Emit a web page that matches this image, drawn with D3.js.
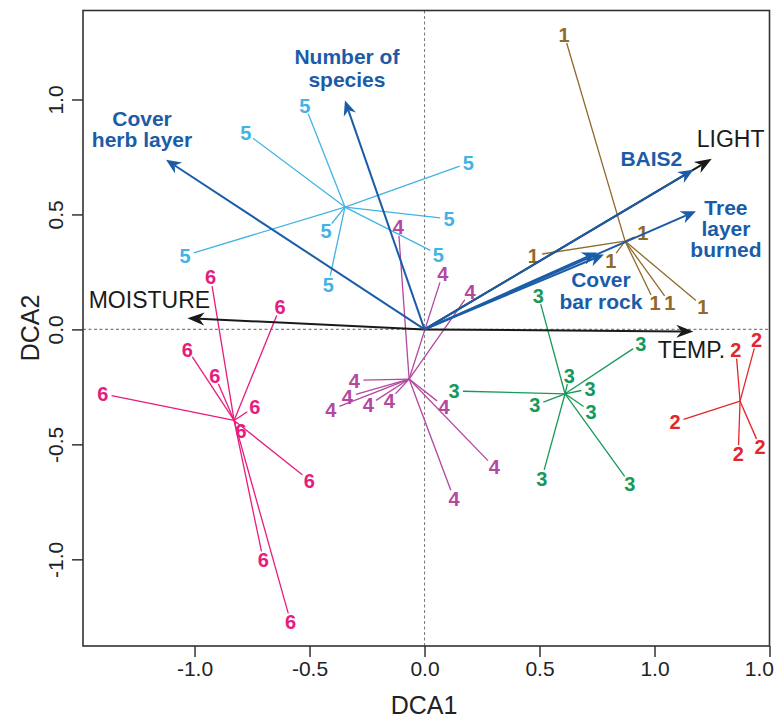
<!DOCTYPE html>
<html><head><meta charset="utf-8">
<script src="https://cdn.jsdelivr.net/npm/d3@7"></script>
<style>body{margin:0;background:#fff}svg{display:block}</style>
</head><body>
<script>
// ---------- data ----------
const xTicks = [-1.0, -0.5, 0.0, 0.5, 1.0, 1.5];
const xTickLabels = ["-1.0", "-0.5", "0.0", "0.5", "1.0", "1.0"];
const yTicks = [-1.0, -0.5, 0.0, 0.5, 1.0];
const yTickLabels = ["-1.0", "-0.5", "0.0", "0.5", "1.0"];
const xTitle = "DCA1";
const yTitle = "DCA2";

const groups = ["1", "2", "3", "4", "5", "6"];
const centroidX = [0.872, 1.372, 0.611, -0.067, -0.346, -0.828];
const centroidY = [0.384, -0.312, -0.280, -0.216, 0.532, -0.396];

const sites1 = [[0.607,1.283],[0.473,0.322],[0.949,0.419],[0.810,0.300],[1.002,0.114],[1.067,0.114],[1.210,0.100]];
const sites2 = [[1.354,-0.088],[1.444,-0.045],[1.089,-0.403],[1.364,-0.542],[1.459,-0.512]];
const sites3 = [[0.495,0.148],[0.128,-0.268],[0.940,-0.062],[0.630,-0.200],[0.720,-0.258],[0.480,-0.330],[0.724,-0.357],[0.510,-0.649],[0.893,-0.671]];
const sites4 = [[-0.114,0.445],[0.079,0.242],[0.198,0.162],[-0.305,-0.222],[-0.336,-0.294],[-0.407,-0.349],[-0.244,-0.330],[-0.153,-0.309],[0.085,-0.335],[0.303,-0.599],[0.128,-0.736]];
const sites5 = [[-0.520,0.974],[-0.777,0.855],[0.190,0.723],[0.107,0.481],[-0.428,0.430],[0.060,0.326],[-1.041,0.322],[-0.418,0.196]];
const sites6 = [[-0.930,0.227],[-0.628,0.097],[-1.031,-0.087],[-0.912,-0.200],[-1.399,-0.280],[-0.738,-0.337],[-0.798,-0.443],[-0.501,-0.657],[-0.701,-1.004],[-0.582,-1.273]];
const groupSites = [sites1, sites2, sites3, sites4, sites5, sites6];

const vectorNames = ["LIGHT", "MOISTURE", "TEMP.", "Number of species", "Cover herb layer", "BAIS2", "Tree layer burned", "Cover bar rock", ""];
const vectorX = [1.249, -1.031, 1.169, -0.346, -1.124, 1.169, 1.180, 0.780, 0.750];
const vectorY = [0.742, 0.049, -0.009, 0.996, 0.738, 0.694, 0.514, 0.326, 0.335];
const vectorKind = ["env", "env", "env", "species", "species", "species", "species", "species", "species"];

// ---------- styles / layout ----------
const W = 774, H = 719;
const groupColors = ["#8f6a2b", "#e3262b", "#17995a", "#b4479f", "#41b3e4", "#e61c7e"];
const kindColor = {species: "#1b5ca8", env: "#1a1a1a"};
// label lines and pixel offsets relative to arrow tip (text layout only)
const vecLabelLayout = [
  {lines: ["LIGHT"], dx: -15, dy: [-12], anchor: "start"},
  {lines: ["MOISTURE"], dx: -38, dy: [-10], anchor: "middle"},
  {lines: ["TEMP."], dx: -2, dy: [27], anchor: "middle"},
  {lines: ["Number of", "species"], dx: 2, dy: [-36, -13], anchor: "middle"},
  {lines: ["Cover", "herb layer"], dx: -24, dy: [-34, -13], anchor: "middle"},
  {lines: ["BAIS2"], dx: -42, dy: [-4], anchor: "middle"},
  {lines: ["Tree", "layer", "burned"], dx: 30, dy: [4, 25, 46], anchor: "middle"},
  {lines: ["Cover", "bar rock"], dx: -3, dy: [33, 55], anchor: "middle"},
  {lines: [], dx: 0, dy: [], anchor: "middle"}
];

const svg = d3.select("body").append("svg").attr("width", W).attr("height", H);
const x = d3.scaleLinear().domain([-1.485, 1.5]).range([83, 769.5]);
const y = d3.scaleLinear().domain([-1.377, 1.387]).range([646, 10.5]);

svg.append("defs").append("clipPath").attr("id", "plotclip")
  .append("rect").attr("x", 83).attr("y", 10.5).attr("width", 769.5 - 83).attr("height", 646 - 10.5);

// zero lines
svg.append("line").attr("x1", x(0)).attr("x2", x(0)).attr("y1", y.range()[1]).attr("y2", y.range()[0])
  .attr("stroke", "#808080").attr("stroke-width", 1.1).attr("stroke-dasharray", "3,2.5");
svg.append("line").attr("x1", x.range()[0]).attr("x2", x.range()[1]).attr("y1", y(0)).attr("y2", y(0))
  .attr("stroke", "#808080").attr("stroke-width", 1.1).attr("stroke-dasharray", "3,2.5");

// axes
const xAxis = d3.axisBottom(x).tickValues(xTicks).tickSize(11).tickPadding(4)
  .tickFormat((d, i) => xTickLabels[i]);
const gx = svg.append("g").attr("transform", `translate(0,646)`).call(xAxis);
gx.select(".domain").remove();
gx.selectAll(".tick line").attr("stroke", "#333").attr("stroke-width", 1.5);
gx.selectAll(".tick text").attr("font-family", "'Liberation Sans', Arial, sans-serif")
  .attr("font-size", 21).attr("fill", "#222");
// last label is squeezed inside the window edge
gx.selectAll(".tick text").filter((d, i) => i === xTicks.length - 1)
  .attr("text-anchor", "end").attr("x", 4);

const yAxis = d3.axisLeft(y).tickValues(yTicks).tickSize(11).tickPadding(4)
  .tickFormat((d, i) => yTickLabels[i]);
const gy = svg.append("g").attr("transform", `translate(83,0)`).call(yAxis);
gy.select(".domain").remove();
gy.selectAll(".tick line").attr("stroke", "#333").attr("stroke-width", 1.5);
gy.selectAll(".tick text").attr("font-family", "'Liberation Sans', Arial, sans-serif")
  .attr("font-size", 21).attr("fill", "#222")
  .attr("text-anchor", "middle").attr("dy", "0.35em")
  .attr("transform", "rotate(-90)").attr("x", 0).attr("y", -27);

// frame
svg.append("rect").attr("x", 83).attr("y", 10.5).attr("width", 769.5 - 83).attr("height", 646 - 10.5)
  .attr("fill", "none").attr("stroke", "#333").attr("stroke-width", 1.6);

// axis titles
svg.append("text").attr("x", 424).attr("y", 714).attr("text-anchor", "middle")
  .attr("font-family", "'Liberation Sans', Arial, sans-serif").attr("font-size", 25).attr("fill", "#222").text(xTitle);
svg.append("text").attr("transform", "translate(39,328) rotate(-90)").attr("text-anchor", "middle")
  .attr("font-family", "'Liberation Sans', Arial, sans-serif").attr("font-size", 25).attr("fill", "#222").text(yTitle);

const plot = svg.append("g").attr("clip-path", "url(#plotclip)");

// spider diagrams
groups.forEach((gname, gi) => {
  const cx = x(centroidX[gi]), cy = y(centroidY[gi]);
  const col = groupColors[gi];
  groupSites[gi].forEach(s => {
    const lx = x(s[0]), ly = y(s[1]);
    const dx = lx - cx, dy = ly - cy;
    const d = Math.hypot(dx, dy);
    const cut = 9;
    if (d > cut + 2) {
      plot.append("line").attr("x1", cx).attr("y1", cy)
        .attr("x2", lx - dx / d * cut).attr("y2", ly - dy / d * cut)
        .attr("stroke", col).attr("stroke-width", 1.3);
    }
  });
});
groups.forEach((gname, gi) => {
  const col = groupColors[gi];
  groupSites[gi].forEach(s => {
    svg.append("text").attr("x", x(s[0])).attr("y", y(s[1])).attr("dy", "0.36em")
      .attr("text-anchor", "middle")
      .attr("font-family", "'Liberation Sans Narrow', 'Arial Narrow', 'Liberation Sans', sans-serif")
      .attr("font-weight", "bold").attr("font-size", 20).attr("fill", col).text(gname);
  });
});

// vectors (environmental first so the species arrows lie on top)
function arrow(x1, y1, x2, y2, color, len, hw, sw) {
  const a = Math.atan2(y2 - y1, x2 - x1);
  const ux = Math.cos(a), uy = Math.sin(a);
  const px = -uy, py = ux;
  const bx = x2 - ux * len, by = y2 - uy * len;
  const nx = x2 - ux * len * 0.7, ny = y2 - uy * len * 0.7;
  svg.append("line").attr("x1", x1).attr("y1", y1).attr("x2", nx).attr("y2", ny)
    .attr("stroke", color).attr("stroke-width", sw);
  svg.append("path").attr("d", `M${x2},${y2}L${bx + px * hw},${by + py * hw}L${nx},${ny}L${bx - px * hw},${by - py * hw}Z`)
    .attr("fill", color);
}
vectorNames.forEach((n, i) => {
  const col = kindColor[vectorKind[i]];
  const tx = x(vectorX[i]), ty = y(vectorY[i]);
  arrow(x(0), y(0), tx, ty, col, vectorKind[i] === "env" ? 17 : 15, 6.5, 2);
});
vectorNames.forEach((n, i) => {
  const col = kindColor[vectorKind[i]];
  const tx = x(vectorX[i]), ty = y(vectorY[i]);
  const L = vecLabelLayout[i];
  const isSp = vectorKind[i] === "species";
  L.lines.forEach((line, k) => {
    svg.append("text").attr("x", tx + L.dx).attr("y", ty + L.dy[k])
      .attr("text-anchor", L.anchor)
      .attr("font-family", "'Liberation Sans', Arial, sans-serif")
      .attr("font-weight", isSp ? "bold" : "normal")
      .attr("font-size", isSp ? 21 : 23)
      .attr("fill", col).text(line);
  });
});
</script>
</body></html>
